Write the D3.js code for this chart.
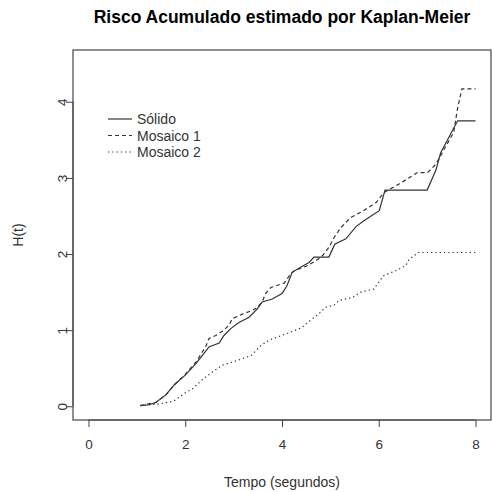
<!DOCTYPE html>
<html lang="pt">
<head>
  <meta charset="utf-8">
  <title>Risco Acumulado</title>
  <script src="https://d3js.org/d3.v7.min.js"></script>
  <style>
    body { margin: 0; background: #fff; }
    text { font-family: "Liberation Sans", Arial, sans-serif; }
  </style>
</head>
<body>
<script>
// data: [tempo, H(t)]
var solido = [[1.07,0.01],[1.25,0.02],[1.39,0.05],[1.6,0.15],[1.77,0.28],[2.0,0.41],[2.22,0.56],[2.42,0.72],[2.49,0.78],[2.70,0.83],[2.80,0.93],[2.94,1.02],[3.11,1.10],[3.32,1.17],[3.49,1.28],[3.59,1.37],[3.80,1.41],[4.0,1.48],[4.10,1.58],[4.21,1.76],[4.42,1.84],[4.56,1.89],[4.66,1.96],[4.97,1.96],[5.09,2.13],[5.32,2.20],[5.53,2.36],[5.70,2.44],[6.01,2.57],[6.13,2.84],[7.0,2.84],[7.18,3.10],[7.28,3.33],[7.63,3.75],[8.0,3.75]];
var mosaico1 = [[1.07,0.01],[1.39,0.05],[1.6,0.15],[1.77,0.28],[2.0,0.42],[2.22,0.58],[2.42,0.78],[2.49,0.89],[2.63,0.93],[2.80,1.00],[2.91,1.07],[2.97,1.15],[3.18,1.21],[3.39,1.26],[3.49,1.30],[3.59,1.37],[3.66,1.48],[3.77,1.56],[4.05,1.62],[4.18,1.74],[4.25,1.78],[4.5,1.84],[4.70,1.91],[4.84,1.98],[4.97,2.09],[5.08,2.22],[5.22,2.35],[5.42,2.48],[5.66,2.56],[5.95,2.68],[6.11,2.81],[6.42,2.92],[6.80,3.07],[7.01,3.07],[7.18,3.18],[7.39,3.42],[7.55,3.60],[7.63,3.92],[7.72,4.17],[8.0,4.17]];
var mosaico2 = [[1.07,0.01],[1.46,0.03],[1.77,0.07],[1.98,0.17],[2.15,0.23],[2.37,0.36],[2.56,0.45],[2.77,0.54],[2.97,0.58],[3.11,0.61],[3.37,0.67],[3.55,0.79],[3.73,0.87],[4.08,0.95],[4.40,1.03],[4.49,1.08],[4.63,1.15],[4.77,1.22],[4.90,1.30],[5.08,1.33],[5.18,1.39],[5.46,1.43],[5.63,1.50],[5.90,1.54],[6.02,1.65],[6.11,1.72],[6.35,1.78],[6.56,1.85],[6.63,1.93],[6.82,2.02],[8.0,2.02]];

var seriesNames = ["Sólido", "Mosaico 1", "Mosaico 2"];
var xTicks = [0, 2, 4, 6, 8];
var yTicks = [0, 1, 2, 3, 4];

var width = 492, height = 492;
// plot region (named so they don't clash with window.top)
var pLeft = 73, pRight = 491, pTop = 50, pBottom = 420;

var svg = d3.select("body").append("svg")
    .attr("width", width)
    .attr("height", height);

// R style: limits widened by 4%
var x = d3.scaleLinear().domain([-0.32, 8.32]).range([pLeft, pRight]);
var y = d3.scaleLinear().domain([-0.18, 4.68]).range([pBottom, pTop]);

var ink = "#333";
var axisInk = "#444";

// x axis
var xAxis = svg.append("g")
    .attr("transform", "translate(0," + pBottom + ")")
    .call(d3.axisBottom(x).tickValues(xTicks).tickFormat(d3.format("d"))
          .tickSize(7).tickPadding(12).tickSizeOuter(0));
xAxis.selectAll("text").attr("font-size", "13.5px").attr("fill", ink)
    .attr("font-family", "Liberation Sans, Arial, sans-serif");

// y axis, labels turned like R does
var yAxis = svg.append("g")
    .attr("transform", "translate(" + pLeft + ",0)")
    .call(d3.axisLeft(y).tickValues(yTicks).tickFormat(d3.format("d"))
          .tickSize(7).tickSizeOuter(0));
yAxis.selectAll("text")
    .attr("font-size", "13.5px").attr("fill", ink)
    .attr("font-family", "Liberation Sans, Arial, sans-serif")
    .attr("text-anchor", "middle")
    .attr("transform", "rotate(-90)")
    .attr("x", 0)
    .attr("y", -6)
    .attr("dy", 0);

// axis line only spans first to last tick; the box goes round the plot
svg.selectAll(".domain").remove();
svg.selectAll(".tick line").attr("stroke", axisInk);
svg.append("line").attr("x1", x(0)).attr("x2", x(8)).attr("y1", pBottom).attr("y2", pBottom).attr("stroke", axisInk);
svg.append("line").attr("y1", y(0)).attr("y2", y(4)).attr("x1", pLeft).attr("x2", pLeft).attr("stroke", axisInk);

svg.append("rect")
    .attr("x", pLeft).attr("y", pTop)
    .attr("width", pRight - pLeft).attr("height", pBottom - pTop)
    .attr("fill", "none").attr("stroke", axisInk).attr("stroke-width", 1.2);

var line = d3.line()
    .x(function(d) { return x(d[0]); })
    .y(function(d) { return y(d[1]); });

var dashes = [null, "4,3", "1.3,3"];
[solido, mosaico1, mosaico2].forEach(function(s, i) {
  svg.append("path")
     .datum(s)
     .attr("d", line)
     .attr("fill", "none")
     .attr("stroke", ink)
     .attr("stroke-width", 1.2)
     .attr("stroke-dasharray", dashes[i]);
});

// legend
var legend = svg.append("g");
seriesNames.forEach(function(name, i) {
  var ly = 119 + i * 16.5;
  legend.append("line")
     .attr("x1", 108).attr("x2", 132).attr("y1", ly).attr("y2", ly)
     .attr("stroke", ink).attr("stroke-width", 1.2)
     .attr("stroke-dasharray", dashes[i]);
  legend.append("text")
     .attr("x", 137).attr("y", ly + 5)
     .attr("font-size", "14px").attr("fill", ink)
     .text(name);
});

// titles
svg.append("text")
    .attr("x", (pLeft + pRight) / 2).attr("y", 23)
    .attr("text-anchor", "middle")
    .attr("font-size", "17.5px").attr("font-weight", "bold").attr("fill", "#000")
    .text("Risco Acumulado estimado por Kaplan-Meier");

svg.append("text")
    .attr("x", (pLeft + pRight) / 2).attr("y", 487)
    .attr("text-anchor", "middle")
    .attr("font-size", "14px").attr("fill", ink)
    .text("Tempo (segundos)");

svg.append("text")
    .attr("transform", "translate(23," + ((pTop + pBottom) / 2) + ") rotate(-90)")
    .attr("text-anchor", "middle")
    .attr("font-size", "14px").attr("fill", ink)
    .text("H(t)");
</script>
</body>
</html>
